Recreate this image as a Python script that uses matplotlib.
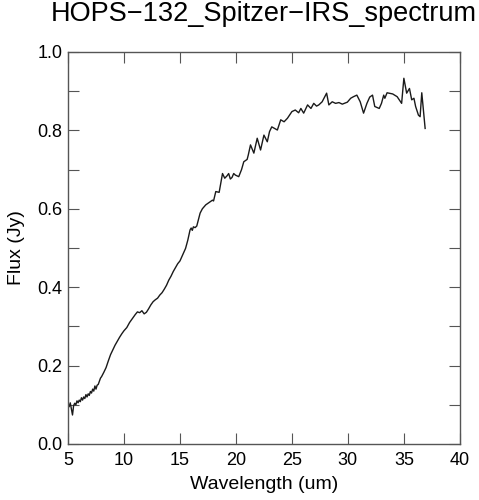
import matplotlib
matplotlib.use("Agg")
import matplotlib.pyplot as plt
from matplotlib.ticker import MultipleLocator

# wavelength (um) and flux (Jy)
wavelength = [
    5.0, 5.1, 5.2, 5.3, 5.4, 5.5, 5.6, 5.7, 5.8, 5.9,
    6.0, 6.1, 6.2, 6.3, 6.4, 6.5, 6.6, 6.7, 6.8, 6.9,
    7.0, 7.1, 7.2, 7.3, 7.4, 7.5, 7.6, 7.7, 7.8, 7.9,
    8.0, 8.2, 8.4, 8.6, 8.8, 9.0, 9.2, 9.4, 9.6, 9.8,
    10.0, 10.25, 10.5, 10.75, 11.0, 11.2, 11.4, 11.6, 11.8, 12.0,
    12.2, 12.4, 12.6, 12.8, 13.0, 13.2, 13.4, 13.6, 13.8, 14.0,
    14.2, 14.4, 14.6, 14.8, 15.0, 15.2, 15.4, 15.5, 15.7, 15.9,
    16.0, 16.1, 16.2, 16.35, 16.5, 16.8, 17.0, 17.3, 17.6, 17.9,
    18.0, 18.2, 18.5, 18.8, 19.0, 19.2, 19.35, 19.5, 19.65, 19.8,
    19.95, 20.25, 20.5, 20.7, 21.0, 21.1, 21.3, 21.6, 21.9, 22.2,
    22.5, 22.8, 23.0, 23.2, 23.45, 23.7, 24.0, 24.3, 24.6, 25.0,
    25.3, 25.6, 25.8, 26.05, 26.4, 26.7, 26.95, 27.2, 27.4, 27.7,
    28.1, 28.3, 28.6, 28.9, 29.2, 29.5, 29.95, 30.25, 30.5, 30.8,
    31.1, 31.4, 31.7, 31.95, 32.2, 32.4, 32.8, 33.0, 33.2, 33.3,
    33.5, 34.0, 34.4, 34.8, 35.0, 35.25, 35.5, 35.7, 35.9, 36.05,
    36.3, 36.45, 36.6, 36.9,
]
flux = [
    0.100, 0.095, 0.105, 0.090, 0.074, 0.098, 0.104, 0.100, 0.110, 0.105,
    0.112, 0.108, 0.118, 0.112, 0.120, 0.116, 0.126, 0.120, 0.128, 0.124,
    0.134, 0.130, 0.140, 0.135, 0.148, 0.140, 0.150, 0.152, 0.160, 0.168,
    0.172, 0.183, 0.195, 0.212, 0.228, 0.240, 0.252, 0.262, 0.272, 0.281,
    0.289, 0.297, 0.310, 0.320, 0.330, 0.337, 0.335, 0.340, 0.332, 0.336,
    0.345, 0.355, 0.363, 0.368, 0.372, 0.380, 0.386, 0.395, 0.405, 0.418,
    0.428, 0.440, 0.450, 0.460, 0.467, 0.480, 0.493, 0.499, 0.520, 0.546,
    0.551, 0.545, 0.554, 0.552, 0.556, 0.589, 0.600, 0.610, 0.616, 0.622,
    0.620, 0.644, 0.642, 0.690, 0.678, 0.684, 0.690, 0.676, 0.680, 0.690,
    0.686, 0.682, 0.700, 0.720, 0.726, 0.737, 0.763, 0.742, 0.780, 0.750,
    0.788, 0.771, 0.797, 0.809, 0.805, 0.801, 0.827, 0.822, 0.831, 0.848,
    0.852, 0.845, 0.856, 0.844, 0.865, 0.856, 0.869, 0.862, 0.865, 0.873,
    0.895, 0.865, 0.873, 0.869, 0.871, 0.867, 0.872, 0.882, 0.886, 0.890,
    0.873, 0.844, 0.869, 0.885, 0.890, 0.861, 0.856, 0.869, 0.890, 0.882,
    0.896, 0.893, 0.886, 0.869, 0.933, 0.895, 0.907, 0.878, 0.882, 0.861,
    0.839, 0.835, 0.896, 0.805,
]

plt.rcParams['font.family'] = ['Liberation Sans', 'DejaVu Sans']

fig = plt.figure(figsize=(4.79, 5.0), dpi=100)
ax = fig.add_axes([0.142, 0.112, 0.818, 0.784])
ax.plot(wavelength, flux, color='#1a1a1a', linewidth=1.0)

ax.set_xlim(5, 40)
ax.set_ylim(0, 1.0)
ax.xaxis.set_major_locator(MultipleLocator(5))
ax.yaxis.set_major_locator(MultipleLocator(0.2))
ax.yaxis.set_minor_locator(MultipleLocator(0.1))
ax.yaxis.set_major_formatter(lambda v, pos: f"{v:.1f}")
ax.tick_params(which='both', direction='in', top=True, right=True,
               length=8, width=0.8, color='#555555', labelsize=13, pad=4)
ax.tick_params(axis='x', pad=6)
for s in ax.spines.values():
    s.set_color('#555555')
    s.set_linewidth(1.0)

ax.set_xlabel('Wavelength (um)', fontsize=14, labelpad=5)
ax.set_ylabel('Flux (Jy)', fontsize=14, labelpad=9)
ax.set_title('HOPS\u2212132_Spitzer\u2212IRS_spectrum', fontsize=19.5, pad=22)

fig.savefig('out.png', dpi=100)
